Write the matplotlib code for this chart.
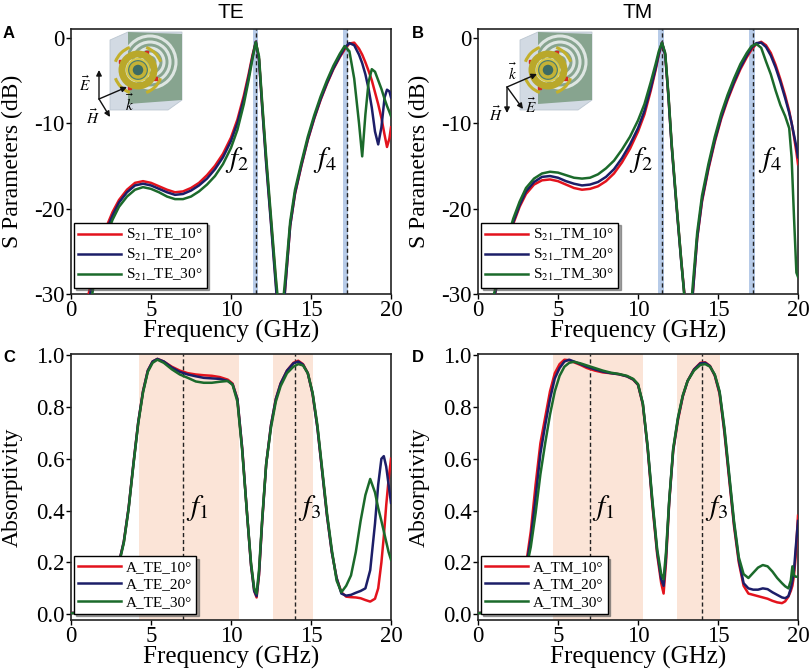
import math
import matplotlib
matplotlib.use('Agg')
import matplotlib.pyplot as plt
from matplotlib.patches import Polygon, Circle, Arc, Rectangle

plt.rcParams['font.family'] = ['Liberation Serif', 'DejaVu Serif']
plt.rcParams['mathtext.fontset'] = 'stix'
plt.rcParams['axes.unicode_minus'] = False

# ---------------- data ----------------
# A: S21, TE polarisation (dB)
freq_A = [0.8, 1.1, 1.4, 1.8, 2.2, 2.6, 3.0, 3.5, 4.0, 4.5, 5.0, 5.5, 6.0, 6.5, 7.0,
          7.5, 8.0, 8.5, 9.0, 9.5, 10.0, 10.4, 10.8, 11.1, 11.35, 11.55, 11.75, 11.95,
          12.2, 12.5, 12.8, 13.1, 13.4, 13.7, 14.0, 14.4, 14.8, 15.2, 15.6, 16.0, 16.4,
          16.8, 17.1, 17.4, 17.7, 18.0, 18.2, 18.4, 18.6, 18.8, 19.0, 19.2, 19.4, 19.6,
          19.75, 19.9, 20.0]
s21_te_10 = [-34, -30, -27.3, -24.5, -22.2, -20.4, -19.0, -17.8, -17.0, -16.8, -17.0, -17.4,
             -17.8, -18.1, -18.0, -17.6, -17.0, -16.1, -15.0, -13.6, -11.7, -9.6, -6.8, -4.3,
             -2.0, -0.5, -2.5, -8.0, -14.5, -21.5, -28.5, -36, -29, -22.0, -18.3, -15.0,
             -12.0, -9.5, -7.3, -5.4, -3.7, -2.3, -1.4, -0.7, -0.6, -1.3, -2.0, -2.9, -3.9,
             -5.0, -6.4, -7.8, -9.4, -11.4, -12.8, -11.8, -10.5]
s21_te_20 = [-35, -31, -28, -25.0, -22.6, -20.8, -19.3, -18.1, -17.3, -17.1, -17.3, -17.7,
             -18.1, -18.4, -18.3, -17.9, -17.3, -16.5, -15.4, -14.0, -12.1, -10.0, -7.2, -4.6,
             -2.2, -0.5, -2.6, -8.2, -14.8, -21.8, -29, -36, -29, -22, -18.2, -14.9, -11.9,
             -9.4, -7.2, -5.3, -3.6, -2.2, -1.2, -0.65, -0.9, -2.0, -3.0, -4.3, -6.0, -8.2,
             -11.0, -12.5, -10.5, -7.0, -6.1, -6.3, -7.0]
s21_te_30 = [-36, -32.5, -29.2, -25.8, -23.2, -21.3, -19.8, -18.6, -17.8, -17.5, -17.7, -18.1,
             -18.6, -18.9, -18.9, -18.6, -18.0, -17.2, -16.2, -14.8, -12.9, -10.8, -7.8, -5.0,
             -2.4, -0.55, -2.2, -7.6, -14.0, -21.0, -28.0, -34, -28, -21.5, -17.8, -14.6,
             -11.6, -9.1, -6.9, -5.0, -3.3, -1.9, -1.0, -1.6, -4.8, -10.0, -13.9, -9.0, -5.2,
             -3.7, -4.0, -5.0, -6.0, -7.2, -8.0, -8.7, -9.2]

# B: S21, TM polarisation (dB)
freq_B = [0.8, 1.0, 1.4, 1.8, 2.2, 2.6, 3.0, 3.5, 4.0, 4.5, 5.0, 5.5, 6.0, 6.5, 7.0, 7.5,
          8.0, 8.5, 9.0, 9.5, 10.0, 10.4, 10.8, 11.1, 11.3, 11.5, 11.7, 11.9, 12.1, 12.4,
          12.7, 13.0, 13.2, 13.4, 13.7, 14.0, 14.4, 14.8, 15.2, 15.6, 16.0, 16.4, 16.8,
          17.1, 17.4, 17.7, 18.0, 18.3, 18.6, 18.9, 19.2, 19.45, 19.6, 19.75, 19.9, 20.0]
s21_tm_10 = [-34, -30.5, -27.2, -24.3, -21.8, -19.8, -18.3, -17.2, -16.7, -16.6, -16.8, -17.2,
             -17.6, -17.8, -17.7, -17.4, -16.8, -15.9, -14.6, -13.0, -11.0, -9.0, -6.2, -3.8,
             -2.0, -0.6, -2.0, -6.8, -12.5, -19.5, -26.0, -32, -36, -30.5, -23.5, -19.2,
             -15.4, -12.2, -9.5, -7.3, -5.4, -3.7, -2.3, -1.4, -0.75, -0.5, -0.9, -1.8, -3.2,
             -4.9, -6.8, -8.6, -10.0, -11.6, -13.4, -14.8]
s21_tm_20 = [-34, -30.5, -27.1, -24.1, -21.6, -19.6, -18.0, -16.9, -16.3, -16.2, -16.4, -16.8,
             -17.1, -17.3, -17.2, -16.9, -16.3, -15.4, -14.1, -12.5, -10.6, -8.6, -5.9, -3.6,
             -1.9, -0.6, -2.0, -6.9, -12.6, -19.6, -26.2, -32, -36, -30.5, -23.4, -19.0,
             -15.2, -12.0, -9.3, -7.1, -5.2, -3.5, -2.1, -1.2, -0.65, -0.6, -1.1, -2.1, -3.5,
             -5.2, -7.1, -8.8, -10.0, -11.4, -12.8, -14.0]
s21_tm_30 = [-33.5, -30, -26.8, -23.8, -21.2, -19.2, -17.6, -16.5, -15.9, -15.7, -15.8, -16.1,
             -16.4, -16.5, -16.4, -16.0, -15.3, -14.4, -13.1, -11.6, -9.7, -7.8, -5.2, -3.1,
             -1.6, -0.6, -1.8, -6.6, -12.3, -19.3, -26.0, -32.5, -35, -29.5, -22.8, -18.5,
             -14.8, -11.6, -8.9, -6.7, -4.8, -3.1, -1.8, -1.0, -0.75, -1.2, -2.8, -4.3, -6.2,
             -7.9, -9.2, -10.6, -14.0, -21.0, -27.5, -28.0]

# C: absorptivity, TE
freq_C = [0, 0.5, 1.0, 1.5, 2.0, 2.5, 3.0, 3.3, 3.6, 3.9, 4.2, 4.5, 4.8, 5.1, 5.4, 5.8, 6.3,
          6.8, 7.3, 7.8, 8.3, 8.8, 9.3, 9.8, 10.1, 10.4, 10.7, 11.0, 11.25, 11.45, 11.6,
          11.75, 11.95, 12.2, 12.5, 12.8, 13.1, 13.5, 13.9, 14.2, 14.5, 14.8, 15.1, 15.4,
          15.7, 16.0, 16.3, 16.6, 16.9, 17.2, 17.5, 17.8, 18.1, 18.4, 18.7, 19.0, 19.2,
          19.4, 19.55, 19.7, 19.85, 20.0]
a_te_10 = [0.005, 0.006, 0.01, 0.025, 0.055, 0.11, 0.2, 0.28, 0.41, 0.58, 0.74, 0.86, 0.94,
           0.975, 0.985, 0.975, 0.955, 0.94, 0.93, 0.925, 0.922, 0.92, 0.915, 0.905, 0.89,
           0.83, 0.64, 0.39, 0.19, 0.09, 0.065, 0.15, 0.36, 0.58, 0.73, 0.83, 0.89, 0.94,
           0.97, 0.978, 0.965, 0.93, 0.85, 0.72, 0.55, 0.38, 0.24, 0.14, 0.085, 0.068,
           0.066, 0.065, 0.062, 0.055, 0.049, 0.06, 0.1, 0.2, 0.3, 0.42, 0.52, 0.6]
a_te_20 = [0.005, 0.006, 0.01, 0.025, 0.055, 0.11, 0.2, 0.28, 0.41, 0.58, 0.74, 0.86, 0.94,
           0.975, 0.985, 0.975, 0.952, 0.935, 0.925, 0.918, 0.912, 0.91, 0.908, 0.9, 0.887,
           0.83, 0.64, 0.39, 0.19, 0.09, 0.07, 0.155, 0.36, 0.58, 0.73, 0.83, 0.89, 0.94,
           0.968, 0.975, 0.963, 0.93, 0.85, 0.72, 0.55, 0.38, 0.24, 0.14, 0.08, 0.072,
           0.075, 0.083, 0.09, 0.1, 0.17, 0.35, 0.5, 0.6, 0.61, 0.57, 0.5, 0.43]
a_te_30 = [0.004, 0.005, 0.009, 0.023, 0.052, 0.105, 0.195, 0.275, 0.405, 0.575, 0.735, 0.855,
           0.935, 0.97, 0.982, 0.97, 0.945, 0.925, 0.912, 0.898, 0.893, 0.893, 0.897, 0.9,
           0.885, 0.82, 0.63, 0.39, 0.2, 0.1, 0.08, 0.17, 0.37, 0.58, 0.72, 0.82, 0.88,
           0.93, 0.955, 0.965, 0.96, 0.93, 0.855, 0.73, 0.56, 0.39, 0.25, 0.13, 0.085, 0.11,
           0.15, 0.24, 0.36, 0.46, 0.522, 0.47, 0.41, 0.36, 0.32, 0.28, 0.24, 0.21]

# D: absorptivity, TM
freq_D = [0, 0.5, 1.0, 1.5, 2.0, 2.5, 3.0, 3.3, 3.6, 3.9, 4.2, 4.5, 4.8, 5.1, 5.4, 5.7, 6.0,
          6.4, 6.8, 7.3, 7.8, 8.3, 8.8, 9.3, 9.7, 10.0, 10.3, 10.6, 10.9, 11.2, 11.45, 11.6,
          11.75, 11.95, 12.2, 12.5, 12.8, 13.1, 13.5, 13.9, 14.2, 14.5, 14.8, 15.1, 15.4,
          15.7, 16.0, 16.3, 16.6, 16.9, 17.2, 17.5, 17.8, 18.1, 18.4, 18.7, 19.0, 19.2,
          19.4, 19.55, 19.65, 19.75, 19.85, 20.0]
a_tm_10 = [0.005, 0.006, 0.01, 0.02, 0.045, 0.09, 0.19, 0.32, 0.5, 0.66, 0.76, 0.86, 0.93,
           0.965, 0.982, 0.98, 0.972, 0.962, 0.95, 0.94, 0.933, 0.93, 0.926, 0.918, 0.905,
           0.885, 0.81, 0.64, 0.42, 0.23, 0.12, 0.08, 0.2, 0.43, 0.63, 0.75, 0.84, 0.9,
           0.945, 0.97, 0.972, 0.958, 0.92, 0.85, 0.7, 0.52, 0.34, 0.2, 0.11, 0.08, 0.075,
           0.07, 0.065, 0.06, 0.052, 0.046, 0.043, 0.05, 0.068, 0.09, 0.11, 0.15, 0.22, 0.38]
a_tm_20 = [0.005, 0.006, 0.01, 0.02, 0.043, 0.085, 0.18, 0.29, 0.45, 0.62, 0.73, 0.83, 0.91,
           0.95, 0.975, 0.982, 0.975, 0.965, 0.955, 0.945, 0.936, 0.93, 0.926, 0.918, 0.906,
           0.886, 0.812, 0.645, 0.43, 0.24, 0.135, 0.11, 0.22, 0.435, 0.635, 0.755, 0.842,
           0.9, 0.944, 0.968, 0.97, 0.957, 0.922, 0.855, 0.71, 0.53, 0.35, 0.21, 0.12, 0.1,
           0.095, 0.095, 0.1, 0.097, 0.085, 0.075, 0.065, 0.062, 0.07, 0.1, 0.13, 0.17,
           0.25, 0.36]
a_tm_30 = [0.004, 0.005, 0.009, 0.018, 0.04, 0.08, 0.17, 0.26, 0.39, 0.54, 0.66, 0.77, 0.86,
           0.92, 0.955, 0.97, 0.974, 0.968, 0.96, 0.95, 0.94, 0.932, 0.927, 0.92, 0.908,
           0.888, 0.815, 0.65, 0.44, 0.25, 0.155, 0.135, 0.24, 0.44, 0.64, 0.76, 0.845, 0.9,
           0.94, 0.962, 0.965, 0.955, 0.925, 0.86, 0.72, 0.54, 0.36, 0.22, 0.155, 0.14,
           0.16, 0.18, 0.19, 0.185, 0.165, 0.14, 0.12, 0.108, 0.1, 0.13, 0.185, 0.15,
           0.145, 0.145]

angles = ['10°', '20°', '30°']
line_colors = ['#e3131d', '#1c1e68', '#1b6a2b']

# marked resonances: (band start, band end, dashed line)
bands_A = [(11.4, 11.7, 11.56), (17.0, 17.3, 17.25)]
bands_B = [(11.25, 11.6, 11.47), (16.95, 17.3, 17.2)]
bands_C = [(4.25, 10.5, 7.0), (12.65, 15.15, 14.0)]
bands_D = [(4.7, 10.3, 7.0), (12.42, 15.12, 14.0)]

W, H = 809, 672
fig = plt.figure(figsize=(W / 100, H / 100), dpi=100)


def px_axes(left, top, right, bottom):
    return fig.add_axes([left / W, 1 - bottom / H, (right - left) / W, (bottom - top) / H])


def style(ax, ylabel):
    ax.set_xlim(0, 20)
    ax.set_xticks([0, 5, 10, 15, 20])
    ax.tick_params(direction='out', length=3.5, width=1, labelsize=16.5, pad=1)
    for s in ax.spines.values():
        s.set_linewidth(1.2)
        s.set_color('#222222')
    ax.set_xlabel('Frequency (GHz)', fontsize=18, labelpad=-1)
    ax.set_ylabel(ylabel, fontsize=17)
    ax.yaxis.set_label_coords(-0.15, 0.5)


def add_legend(ax, handles, labels):
    leg = ax.legend(handles, labels, loc='lower left', bbox_to_anchor=(0.008, 0.024),
                    borderaxespad=0, fontsize=11, fancybox=False, shadow=True, framealpha=1,
                    edgecolor='black', handlelength=2.8, handletextpad=0.3,
                    borderpad=0.3, labelspacing=0.25)
    leg.get_frame().set_linewidth(1)


panels = [
    (px_axes(71, 29, 391, 294), freq_A, [s21_te_10, s21_te_20, s21_te_30], bands_A, '#b7cbe8',
     'S Parameters (dB)', 'S$_{21}$_TE_', [(10.4, -14.3, '$f_2$'), (15.9, -14.3, '$f_4$')]),
    (px_axes(478, 29, 798, 294), freq_B, [s21_tm_10, s21_tm_20, s21_tm_30], bands_B, '#b7cbe8',
     'S Parameters (dB)', 'S$_{21}$_TM_', [(10.2, -14.3, '$f_2$'), (18.25, -14.3, '$f_4$')]),
    (px_axes(71, 354, 391, 620), freq_C, [a_te_10, a_te_20, a_te_30], bands_C, '#fbe4d7',
     'Absorptivity', 'A_TE_', [(7.9, 0.41, '$f_1$'), (14.9, 0.41, '$f_3$')]),
    (px_axes(478, 354, 798, 620), freq_D, [a_tm_10, a_tm_20, a_tm_30], bands_D, '#fbe4d7',
     'Absorptivity', 'A_TM_', [(7.8, 0.41, '$f_1$'), (14.9, 0.41, '$f_3$')]),
]

for i, (ax, freq, series, bands, band_color, ylabel, prefix, flabels) in enumerate(panels):
    for lo, hi, mid in bands:
        ax.axvspan(lo, hi, color=band_color, lw=0, zorder=0)
        ax.axvline(mid, color='#222222', lw=1, ls=(0, (3, 2)), zorder=1)
    handles = []
    for vals, c in zip(series, line_colors):
        ln, = ax.plot(freq, vals, color=c, lw=1.8, zorder=3)
        handles.append(ln)
    for fx, fy, txt in flabels:
        ax.text(fx, fy, txt, fontsize=21, ha='center', va='center', zorder=4)
    style(ax, ylabel)
    if i < 2:
        ax.set_ylim(-30, 1.0)
        ax.set_yticks([-30, -20, -10, 0])
    else:
        ax.set_ylim(-0.022, 1.004)
        ax.set_yticks([0, 0.2, 0.4, 0.6, 0.8, 1.0])
        ax.set_yticklabels(['0.0', '0.2', '0.4', '0.6', '0.8', '1.0'])
    add_legend(ax, handles, [prefix + a for a in angles])

# titles and panel letters
fig.text(231 / W, 1 - 13 / H, 'TE', family='Liberation Sans', fontsize=15, ha='center', va='center')
fig.text(638 / W, 1 - 13 / H, 'TM', family='Liberation Sans', fontsize=15, ha='center', va='center')
for letter, x, y in [('A', 3, 33), ('B', 412, 33), ('C', 3, 358), ('D', 412, 358)]:
    fig.text(x / W, 1 - y / H, letter, family='Liberation Sans', weight='bold', fontsize=12,
             ha='left', va='center')

# unit-cell sketches (overlay in pixel coordinates)
ov = fig.add_axes([0, 0, 1, 1], zorder=10)
ov.set_xlim(0, W)
ov.set_ylim(H, 0)
ov.axis('off')


def draw_cell(x0, y0):
    ov.add_patch(Polygon([(x0, y0 + 8), (x0 + 18, y0), (x0 + 72, y0), (x0 + 72, y0 + 68),
                          (x0 + 58, y0 + 78), (x0, y0 + 78)], closed=True,
                         facecolor='#cdd6e0', edgecolor='#b8c3ce', lw=0.6, alpha=0.9))
    panel = Polygon([(x0 + 18, y0), (x0 + 72, y0 + 2), (x0 + 72, y0 + 68), (x0 + 18, y0 + 72)],
                    closed=True, facecolor='#7f9e86', edgecolor='none', alpha=0.9)
    ov.add_patch(panel)
    cx, cy = x0 + 40, y0 + 30
    for r in (8, 14, 20, 26):
        ring = Circle((cx, cy), r, facecolor='none', edgecolor='#eef2f2', lw=2.2, alpha=0.85)
        ov.add_patch(ring)
        ring.set_clip_path(panel)
    rx, ry = x0 + 28, y0 + 38
    for a0 in (20, 110, 200, 290):
        ov.add_patch(Arc((rx, ry), 48, 48, theta1=a0, theta2=a0 + 50, color='#c3b02c', lw=2.2))
    for a in (65, 155, 245, 335):
        px = rx + 19 * math.cos(math.radians(a))
        py = ry - 19 * math.sin(math.radians(a))
        ov.add_patch(Rectangle((px - 1.5, py - 1.5), 3, 3, color='#d42a20'))
    ov.add_patch(Circle((rx, ry), 16, facecolor='none', edgecolor='#b9a82a', lw=5))
    ov.add_patch(Circle((rx, ry), 11, facecolor='#4d7d6e', edgecolor='#d9c948', lw=1.5))
    ov.add_patch(Circle((rx, ry), 7, facecolor='#3c6b63', edgecolor='#c4b236', lw=2.5))


def arrow(x0, y0, x1, y1):
    ov.annotate('', xy=(x1, y1), xytext=(x0, y0),
                arrowprops=dict(arrowstyle='-|>', color='#111111', lw=1, mutation_scale=8,
                                shrinkA=0, shrinkB=0))


draw_cell(110, 32)
arrow(99, 99, 99, 70)
arrow(99, 99, 127, 87)
arrow(99, 99, 110, 117)
ov.text(85, 84, r'$\vec{E}$', fontsize=11, ha='center', va='center')
ov.text(93, 117, r'$\vec{H}$', fontsize=11, ha='center', va='center')
ov.text(130, 103, r'$\vec{k}$', fontsize=11, ha='center', va='center')

draw_cell(520, 32)
arrow(507, 87, 537, 74)
arrow(507, 87, 507, 113)
arrow(507, 87, 523, 109)
ov.text(513, 72, r'$\vec{k}$', fontsize=11, ha='center', va='center')
ov.text(496, 114, r'$\vec{H}$', fontsize=11, ha='center', va='center')
ov.text(531, 106, r'$\vec{E}$', fontsize=11, ha='center', va='center')

fig.savefig('out.png', dpi=100)
